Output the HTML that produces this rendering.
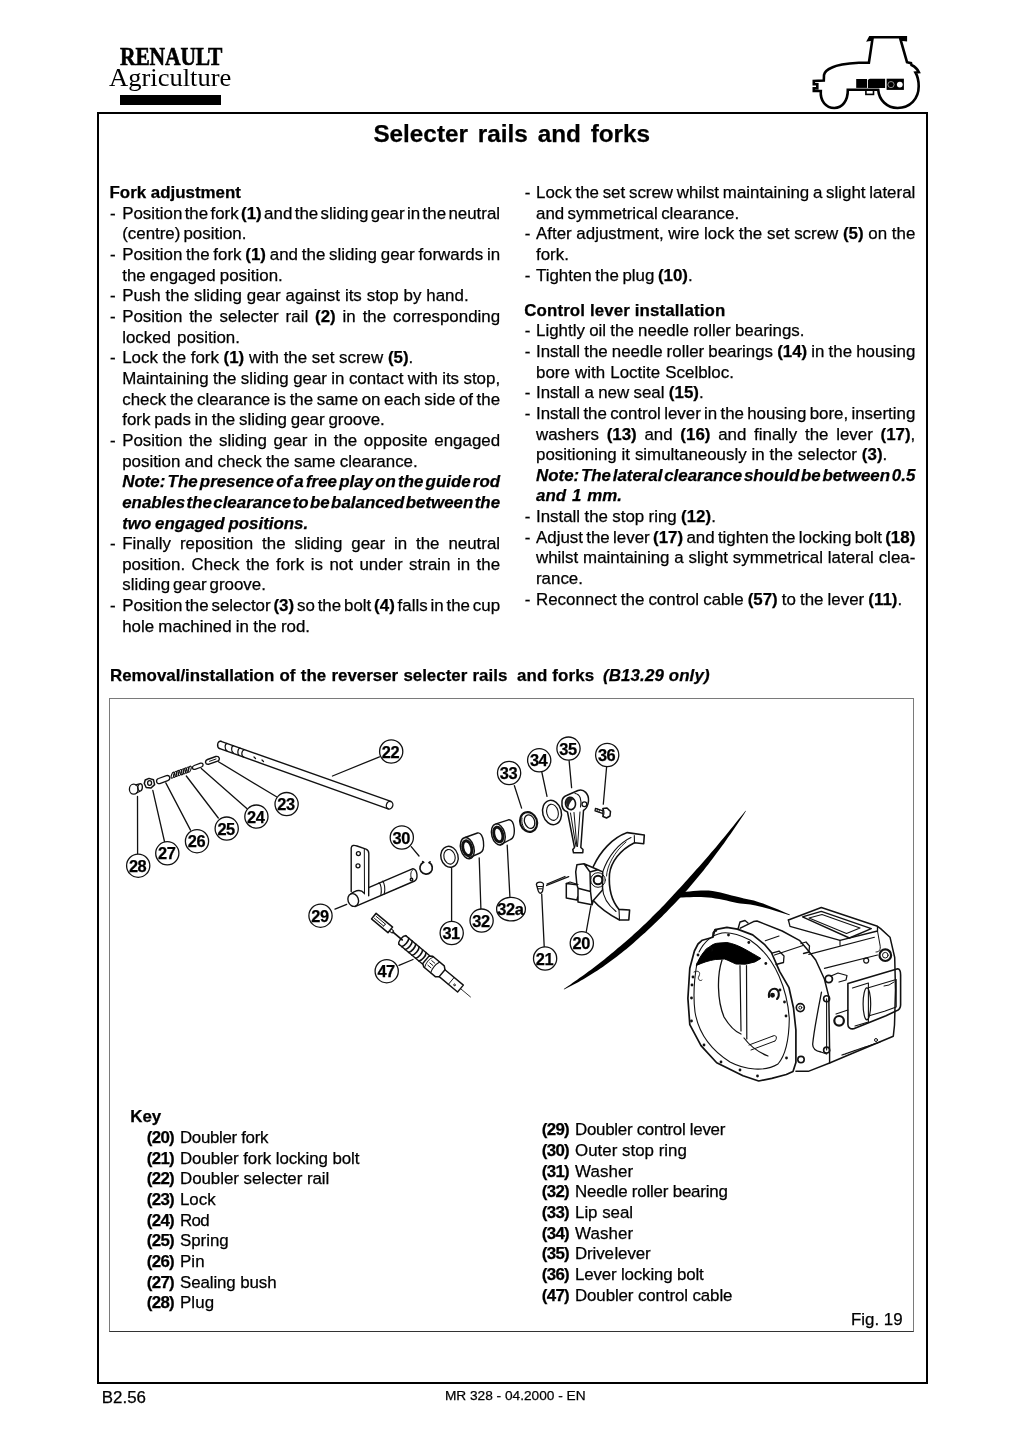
<!DOCTYPE html>
<html><head><meta charset="utf-8">
<style>
html,body{margin:0;padding:0;background:#fff;}
body{width:1024px;height:1449px;position:relative;overflow:hidden;will-change:transform;font-family:"Liberation Sans",sans-serif;color:#000;}
.t{position:absolute;white-space:nowrap;font-size:16.9px;line-height:20px;-webkit-text-stroke:0.25px #000;}
.t b{font-weight:bold;}
.t i{font-weight:bold;font-style:italic;}
.hb{font-weight:bold;}
.frame{position:absolute;left:97px;top:112px;width:827px;height:1267.7px;border:2px solid #000;}
.fig{position:absolute;left:109.2px;top:698.1px;width:802.8px;height:631.8px;border:1.7px solid #7a7a7a;border-bottom-color:#333;}
svg{position:absolute;left:0;top:0;}
</style></head><body>
<div class="frame"></div>
<div class="fig"></div>
<div style="position:absolute;left:120.3px;top:43px;font-family:'Liberation Serif',serif;font-weight:bold;font-size:25.5px;line-height:28px;transform:scaleX(0.845);transform-origin:0 0;letter-spacing:-0.2px;-webkit-text-stroke:0.6px #000">RENAULT</div>
<div style="position:absolute;left:108.5px;top:63px;font-family:'Liberation Serif',serif;font-size:25.4px;line-height:28px;transform:scaleX(1.045);transform-origin:0 0;">Agriculture</div>
<div style="position:absolute;left:120px;top:95px;width:100.5px;height:9.5px;background:#000"></div>
<svg width="1024" height="130" viewBox="0 0 1024 130" style="position:absolute;left:0;top:0">
<g fill="none" stroke="#000" stroke-width="2.6" stroke-linejoin="miter">
<path d="M868.5 40 L872.4 39.4 L868.9 62.8 L858.9 62.8 C848 63.5 838 64.5 832 67.5 C827 69.5 824.5 72 824 75 L823.8 80.5 L813.8 81 L813.8 84.3 L817.3 84.3 L817.3 88.2 L813.8 88.2 L813.8 91 L820.8 91 C820 101 826 108 834.3 108 C842 108 848 101 847.8 89.8 L878.2 89.8 C879 100 887 108 897.6 108 C910 108 918.7 99 918.7 86.3 C918.7 80 917.5 76 915.5 72.5 L918.9 72.2 C917.5 69 914.5 66.5 911.5 65 L911 63.2 L907 62.2 L900.5 39.4 L905.8 40 L905.8 37.2 L870 37.2 Z"/>
<rect x="865.9" y="89.8" width="7.6" height="4.6" stroke-width="1.6"/>
</g>
<rect x="856.2" y="79" width="10.8" height="8.9" fill="#000"/>
<path d="M867.9 88.1 L867.9 80.5 Q868.2 78.7 870 78.7 L885.1 78.7 L885.1 88.1 Z" fill="#000"/>
<rect x="886.6" y="78.7" width="17.3" height="11.2" fill="#000"/>
<circle cx="891" cy="84.6" r="3.1" fill="none" stroke="#aaa" stroke-width="0.8"/>
<circle cx="899.8" cy="84.6" r="2.9" fill="#fff"/>
</svg>

<div class="t hb" style="left:373.4px;top:119.98px;font-size:24.3px;line-height:28px;word-spacing:3.1px">Selecter rails and forks</div>
<div class="t hb" style="left:109.5px;top:182.94px;letter-spacing:0px">Fork adjustment</div>
<div class="t" style="left:110.1px;top:203.60px">-</div>
<div class="t" style="left:122.2px;top:203.60px;word-spacing:-2.305px">Position the fork <b>(1)</b> and the sliding gear in the neutral</div>
<div class="t" style="left:122.2px;top:224.26px;word-spacing:-1.600px">(centre) position.</div>
<div class="t" style="left:110.1px;top:244.92px">-</div>
<div class="t" style="left:122.2px;top:244.92px;word-spacing:-0.888px">Position the fork <b>(1)</b> and the sliding gear forwards in</div>
<div class="t" style="left:122.2px;top:265.58px;word-spacing:-0.500px">the engaged position.</div>
<div class="t" style="left:110.1px;top:286.24px">-</div>
<div class="t" style="left:122.2px;top:286.24px;word-spacing:0.225px">Push the sliding gear against its stop by hand.</div>
<div class="t" style="left:110.1px;top:306.90px">-</div>
<div class="t" style="left:122.2px;top:306.90px;word-spacing:2.211px">Position the selecter rail <b>(2)</b> in the corresponding</div>
<div class="t" style="left:122.2px;top:327.56px;word-spacing:1.300px">locked position.</div>
<div class="t" style="left:110.1px;top:348.22px">-</div>
<div class="t" style="left:122.2px;top:348.22px;word-spacing:0.000px">Lock the fork <b>(1)</b> with the set screw <b>(5)</b>.</div>
<div class="t" style="left:122.2px;top:368.88px;word-spacing:-0.294px">Maintaining the sliding gear in contact with its stop,</div>
<div class="t" style="left:122.2px;top:389.54px;word-spacing:-1.082px">check the clearance is the same on each side of the</div>
<div class="t" style="left:122.2px;top:410.20px;word-spacing:-0.833px">fork pads in the sliding gear groove.</div>
<div class="t" style="left:110.1px;top:430.86px">-</div>
<div class="t" style="left:122.2px;top:430.86px;word-spacing:1.934px">Position the sliding gear in the opposite engaged</div>
<div class="t" style="left:122.2px;top:451.52px;word-spacing:-0.240px">position and check the same clearance.</div>
<div class="t" style="left:122.2px;top:472.18px;word-spacing:-2.474px"><i>Note: The presence of a free play on the guide rod</i></div>
<div class="t" style="left:122.2px;top:492.84px;word-spacing:-3.275px"><i>enables the clearance to be balanced between the</i></div>
<div class="t" style="left:122.2px;top:513.50px;word-spacing:-0.850px"><i>two engaged positions.</i></div>
<div class="t" style="left:110.1px;top:534.16px">-</div>
<div class="t" style="left:122.2px;top:534.16px;word-spacing:4.222px">Finally reposition the sliding gear in the neutral</div>
<div class="t" style="left:122.2px;top:554.82px;word-spacing:1.826px">position. Check the fork is not under strain in the</div>
<div class="t" style="left:122.2px;top:575.48px;word-spacing:-1.850px">sliding gear groove.</div>
<div class="t" style="left:110.1px;top:596.14px">-</div>
<div class="t" style="left:122.2px;top:596.14px;word-spacing:-1.837px">Position the selector <b>(3)</b> so the bolt <b>(4)</b> falls in the cup</div>
<div class="t" style="left:122.2px;top:616.80px;word-spacing:-0.450px">hole machined in the rod.</div>
<div class="t" style="left:524.8px;top:182.94px">-</div>
<div class="t" style="left:536.0px;top:182.94px;word-spacing:-0.937px">Lock the set screw whilst maintaining a slight lateral</div>
<div class="t" style="left:536.0px;top:203.60px;word-spacing:-1.250px">and symmetrical clearance.</div>
<div class="t" style="left:524.8px;top:224.26px">-</div>
<div class="t" style="left:536.0px;top:224.26px;word-spacing:0.002px">After adjustment, wire lock the set screw <b>(5)</b> on the</div>
<div class="t" style="left:536.0px;top:244.92px;word-spacing:0.000px">fork.</div>
<div class="t" style="left:524.8px;top:265.58px">-</div>
<div class="t" style="left:536.0px;top:265.58px;word-spacing:-1.100px">Tighten the plug <b>(10)</b>.</div>
<div class="t hb" style="left:524.2px;top:300.54px;letter-spacing:0.12px">Control lever installation</div>
<div class="t" style="left:524.8px;top:321.20px">-</div>
<div class="t" style="left:536.0px;top:321.20px;word-spacing:-0.390px">Lightly oil the needle roller bearings.</div>
<div class="t" style="left:524.8px;top:341.86px">-</div>
<div class="t" style="left:536.0px;top:341.86px;word-spacing:-0.593px">Install the needle roller bearings <b>(14)</b> in the housing</div>
<div class="t" style="left:536.0px;top:362.52px;word-spacing:0.533px">bore with Loctite Scelbloc.</div>
<div class="t" style="left:524.8px;top:383.18px">-</div>
<div class="t" style="left:536.0px;top:383.18px;word-spacing:-0.350px">Install a new seal <b>(15)</b>.</div>
<div class="t" style="left:524.8px;top:403.84px">-</div>
<div class="t" style="left:536.0px;top:403.84px;word-spacing:-1.412px">Install the control lever in the housing bore, inserting</div>
<div class="t" style="left:536.0px;top:424.50px;word-spacing:3.045px">washers <b>(13)</b> and <b>(16)</b> and finally the lever <b>(17)</b>,</div>
<div class="t" style="left:536.0px;top:445.16px;word-spacing:0.167px">positioning it simultaneously in the selector <b>(3)</b>.</div>
<div class="t" style="left:536.0px;top:465.82px;word-spacing:-2.939px"><i>Note: The lateral clearance should be between 0.5</i></div>
<div class="t" style="left:536.0px;top:486.48px;word-spacing:1.250px"><i>and 1 mm.</i></div>
<div class="t" style="left:524.8px;top:507.14px">-</div>
<div class="t" style="left:536.0px;top:507.14px;word-spacing:-0.350px">Install the stop ring <b>(12)</b>.</div>
<div class="t" style="left:524.8px;top:527.80px">-</div>
<div class="t" style="left:536.0px;top:527.80px;word-spacing:-1.362px">Adjust the lever <b>(17)</b> and tighten the locking bolt <b>(18)</b></div>
<div class="t" style="left:536.0px;top:548.46px;word-spacing:0.165px">whilst maintaining a slight symmetrical lateral clea-</div>
<div class="t" style="left:536.0px;top:569.12px;word-spacing:0.000px">rance.</div>
<div class="t" style="left:524.8px;top:589.78px">-</div>
<div class="t" style="left:536.0px;top:589.78px;word-spacing:-0.600px">Reconnect the control cable <b>(57)</b> to the lever <b>(11)</b>.</div>
<div class="t hb" style="left:110.0px;top:665.54px;word-spacing:0.6px">Removal/installation of the reverser selecter rails</div>
<div class="t hb" style="left:517px;top:665.54px;letter-spacing:0.15px">and forks</div>
<div class="t hb" style="left:603px;top:665.54px;font-style:italic;letter-spacing:0.12px">(B13.29 only)</div>
<svg width="1024" height="1449" viewBox="0 0 1024 1449" style="position:absolute;left:0;top:0">
<g fill="none" stroke="#111" stroke-width="1.3" stroke-linecap="round" stroke-linejoin="round">
<!-- leaders -->
<path d="M332.5 776 L379.5 756.8"/>
<path d="M218.4 761.7 L276.5 796.8"/>
<path d="M201.3 768.5 L247.1 808.8"/>
<path d="M186.3 776 L218.3 818"/>
<path d="M165.8 782.9 L190.5 830.1"/>
<path d="M152.8 790.4 L164.5 841.5"/>
<path d="M137.5 796.5 L137.6 853.6"/>
<path d="M411.2 846.7 L419 856"/>
<path d="M335 909.2 L346.7 904.3"/>
<path d="M451.6 868.5 L451.6 921.2"/>
<path d="M479.2 857.8 L480.9 908.9"/>
<path d="M507.2 845.2 L509.9 896.8"/>
<path d="M399 965.4 L413 959.5"/>
<path d="M514.4 785.7 L521.6 808.1"/>
<path d="M541.8 772 L547 796.4"/>
<path d="M569.1 760.5 L571.6 787.6"/>
<path d="M606.6 767 L603.3 804.2"/>
<path d="M590.9 905.9 L586.3 931.5"/>
<path d="M541.7 894.1 L544.2 946.6"/>
<!-- rod 22 -->
<path d="M221 741.3 L390.9 801.4 M219.8 748.6 L388.1 808.9" stroke-width="1.4"/>
<path d="M221 741.3 C217 740.5 216.5 747.5 219.8 748.6" stroke-width="1.4"/>
<ellipse cx="389.6" cy="805.2" rx="3.2" ry="3.9" transform="rotate(19.5 389.6 805.2)"/>
<path d="M227 743.3 C224.5 744 224.5 749.5 227 750.7 M233.5 745.6 C231 746.3 231 752 233.5 753 M240 748 C237.5 748.7 237 754.5 239.5 755.5 M244.5 749.5 C241 751 241 756 244 757.2" stroke-width="1.2"/>
<path d="M254 757 l1.5 1.5 M262 760 l1.5 1.5" stroke-width="1.2"/>
<!-- small parts -->
<ellipse cx="133.7" cy="789.2" rx="4.3" ry="5"/>
<path d="M135.5 784.8 L140.5 783.6 C143 784 143 790 140.5 791 L136.5 793" />
<path d="M139 784.5 C137 786 137.5 790 139.5 791"/>
<path d="M145.2 780 L149 778.4 L153.5 779.8 L154.6 784.6 L151 788 L146.2 787.5 L144.3 783.5 Z" stroke-width="1.5"/>
<ellipse cx="149.6" cy="783" rx="2" ry="2.4"/>
<path d="M158.5 778.5 L166.5 775.6 C170 774.8 171 779.5 167.8 780.6 L159.8 783.6 C156 784.3 155.5 779.5 158.5 778.5 Z"/>
<g stroke-width="1.1"><ellipse cx="172.8" cy="775.20" rx="1.3" ry="3.2" transform="rotate(20 172.8 775.20)"/><ellipse cx="175.2" cy="774.34" rx="1.3" ry="3.2" transform="rotate(20 175.2 774.34)"/><ellipse cx="177.6" cy="773.48" rx="1.3" ry="3.2" transform="rotate(20 177.6 773.48)"/><ellipse cx="180.0" cy="772.62" rx="1.3" ry="3.2" transform="rotate(20 180.0 772.62)"/><ellipse cx="182.4" cy="771.76" rx="1.3" ry="3.2" transform="rotate(20 182.4 771.76)"/><ellipse cx="184.8" cy="770.90" rx="1.3" ry="3.2" transform="rotate(20 184.8 770.90)"/><ellipse cx="187.2" cy="770.04" rx="1.3" ry="3.2" transform="rotate(20 187.2 770.04)"/><ellipse cx="189.6" cy="769.18" rx="1.3" ry="3.2" transform="rotate(20 189.6 769.18)"/></g>
<path d="M194.2 765.5 L200.5 763.2 C203.5 762.5 204 766 201.5 767 L195 769.3 C192 770 191.5 766.5 194.2 765.5 Z"/>
<path d="M207.5 759.5 L215.8 756.5 C219.5 755.6 220.5 760 217.5 761.2 L209 764.2 C205 765 204.5 760.6 207.5 759.5 Z" stroke-width="1.4"/>
<path d="M209.5 761.3 L216 759" stroke-width="1"/>
<!-- lever 29 -->
<path d="M351.2 891.5 L351.2 848 C351.5 845 354 845 357 846 L366 849.2 C368.5 850.2 368.8 851.5 368.8 853.5 L368.7 895.8" stroke-width="1.4"/>
<path d="M364.3 848.5 L364.5 894" stroke-width="1"/>
<circle cx="358.4" cy="853.6" r="2"/>
<circle cx="358" cy="865.8" r="2"/>
<ellipse cx="353.2" cy="900" rx="5.2" ry="6.5" transform="rotate(-20 353.2 900)" stroke-width="1.4"/>
<path d="M351 893.7 L354 891.8 C358 890 362 890.5 364 893 M355 906.6 L414.6 881 C418.2 879.3 417.8 869.6 413 868.7 L369.2 887.4" stroke-width="1.4"/>
<path d="M379 882.8 C381 884 382 890 380.8 895.5 M382.5 881.2 C384.5 882.5 385.5 889 384.3 894" stroke-width="1.1"/>
<path d="M412.5 870 C410.5 871 410 877 412 879.5" stroke-width="1"/>
<circle cx="411.5" cy="879.5" r="1.3"/>
<path d="M423.6 862.3 A6.2 6.2 0 1 0 429.2 862.6" stroke-width="1.7"/><path d="M423.6 862.3 l-1 -0.8 M429.2 862.6 l0.9 -0.9" stroke-width="1.5"/>
<!-- washer 31 -->
<ellipse cx="449.5" cy="856.8" rx="8.6" ry="10.6" transform="rotate(-15 449.5 856.8)" stroke-width="1.4"/>
<ellipse cx="449.5" cy="856.8" rx="5.6" ry="7.4" transform="rotate(-15 449.5 856.8)" stroke-width="1.1"/>
<!-- bearing 32 -->
<path d="M465 837.5 L477.5 833 C484 831.5 486 850.5 480 853 L469 857.8" stroke-width="1.4"/>
<ellipse cx="467.3" cy="848.2" rx="6.6" ry="10.8" transform="rotate(-15 467.3 848.2)" stroke-width="1.5"/>
<ellipse cx="467.3" cy="848.2" rx="4.3" ry="7.5" transform="rotate(-15 467.3 848.2)" stroke-width="3" stroke-dasharray="1.1 0.8"/>
<!-- bearing 32a -->
<path d="M496 823.8 L508.5 819.8 C515 818.5 516.5 837 510.5 839.5 L500 844.8" stroke-width="1.4"/>
<ellipse cx="498.3" cy="834.5" rx="6.6" ry="10.8" transform="rotate(-15 498.3 834.5)" stroke-width="1.4"/>
<ellipse cx="498.3" cy="834.5" rx="4.3" ry="7.5" transform="rotate(-15 498.3 834.5)" stroke-width="3" stroke-dasharray="1.1 0.8"/>
<!-- seal 33 -->
<ellipse cx="528.6" cy="822" rx="8.4" ry="10" transform="rotate(-20 528.6 822)" stroke-width="2.1"/>
<ellipse cx="529.6" cy="821.6" rx="5" ry="7" transform="rotate(-20 529.6 821.6)" stroke-width="1.3"/>
<path d="M522 818 C521 822 523 829 527 830.5" stroke-width="1"/>
<!-- washer 34 -->
<ellipse cx="552" cy="812.5" rx="9.3" ry="12.3" transform="rotate(-15 552 812.5)" stroke-width="1.5"/>
<ellipse cx="552.5" cy="812.3" rx="5.7" ry="8.2" transform="rotate(-15 552.5 812.3)" stroke-width="1.1"/>
<!-- lever 35 -->
<path d="M566.5 795.5 L578 790.5 C584 788.5 589 794 588.5 801 C588 806 586 809 583.5 810.5 L580.8 847.5 L583 849.5 L582.8 852.8 L573.5 852.8 L572.8 849.5 L574.5 847.5 L567.5 812 C563 811 561.5 806 562 801 C562.5 798 564 796.5 566.5 795.5 Z" stroke-width="1.5"/>
<ellipse cx="570.5" cy="803.5" rx="5" ry="6.2" transform="rotate(-10 570.5 803.5)" stroke-width="1.6"/><path d="M566 802 C566 797 570 796.5 574 798.5 C572 800 569 803 568.5 808 C566.8 806.5 566 804.5 566 802 Z" fill="#222" stroke="none"/>
<path d="M575 793.5 C580 794 582 800 580.5 807" stroke-width="1.1"/>
<circle cx="584.4" cy="804.2" r="2.4" stroke-width="1.3"/>
<path d="M570.5 813 L576 846.5 M580 812 L577.5 846.5 M574 812.5 L576.8 846" stroke-width="1"/>
<!-- bolt 36 -->
<path d="M595.5 808.3 L603 810.8 M595 810.8 L602.5 813.3 M595.5 808.3 L595 810.8" stroke-width="1.3"/>
<path d="M597.5 808.8 L597 811.5 M599.5 809.5 L599 812.2" stroke-width="0.9"/>
<path d="M603 808.5 L607 808 L610.5 811.5 L610 816 L606.5 818 L603 816.5 Z" stroke-width="1.5"/>
<path d="M603 808.5 C604.5 810.5 604.5 814.5 603 816.5" stroke-width="1"/>
<!-- bolt 21 -->
<path d="M536.4 884.5 C536.5 881.6 543.5 881.3 543.5 884.5 L542.6 891 C541.5 894 539.5 894 538.3 891 Z" stroke-width="1.3"/>
<path d="M537.5 886.5 L542.5 886.5 M538 888.8 L542 888.8" stroke-width="1"/>
<path d="M546.6 885.5 L568.7 876.6 M547 884 L565 876.5" stroke-width="1.3"/>
<!-- fork 20 -->
<path d="M593.3 866.5 C600 852 612 838 627.3 832.6 L644.3 835 L643.7 843.8 L634.5 842.8 C620 850 611 862 609.5 874 C608.5 888 611 900 619 909.4 L629.6 910 L628.8 920 L619.5 920 C608 914 599 907 593.3 900.5" stroke-width="1.6"/>
<path d="M634.3 835.5 L634.5 842.8 M619 909.4 L619.5 920" stroke-width="1.1"/>
<path d="M602.7 871.9 C608 856 619 843 631 837.5 M602.5 888 C603 898 608 905 616 911.5" stroke-width="1.1"/>
<path d="M606.5 876 C607 866 614 852 626 842" stroke-width="0.9"/>
<path d="M576.9 864.8 L584 863.8 L597.9 869.7 L602.7 871.9 L602.5 890 L593.3 900.5 L592.1 904.7 L578 902 L578 888.3 M576.9 864.8 L575.7 871.9 L576.9 884.8 L566.3 883.6 L566.3 898 L576.9 900 L578 896 M576.9 884.8 L578 888.3 L590.5 891.5 L592.1 904.7 M584 863.8 L590 872 L597.9 869.7 M590 872 L590.5 891.5" stroke-width="1.5"/>
<path d="M566.3 883.6 L570 882 L578 884.5" stroke-width="1.1"/>
<circle cx="598" cy="880" r="4.3" stroke-width="2"/>
<circle cx="598" cy="880" r="7.3" stroke-width="1"/>
<!-- cable 47 -->
<g transform="translate(373.8 916.1) rotate(39.9)">
<path d="M0 -3.6 L21.5 -3.6 L21.5 3.6 L0 3.6 Z" stroke-width="1.5"/>
<path d="M2 -1.3 L14 -1.3 M2 1.3 L14 1.3 M14 -1.3 L14 1.3" stroke-width="0.9"/>
<path d="M21.5 -1.5 L25 -1.2 L25 1.2 L21.5 1.5" stroke-width="1"/>
<path d="M25 0 L37 0" stroke-width="1.8"/>
<path d="M37 -5.5 L68 -5.5 M37 5.5 L68 5.5" stroke-width="1.4"/>
<path d="M38 -5.5 C34.5 -5.5 34.5 5.5 38 5.5" stroke-width="1.4"/>
<g stroke-width="1.6"><path d="M41 -5.5 C43 -3 43 3 41 5.5"/><path d="M45.5 -5.5 C47.5 -3 47.5 3 45.5 5.5"/><path d="M50 -5.5 C52 -3 52 3 50 5.5"/><path d="M54.5 -5.5 C56.5 -3 56.5 3 54.5 5.5"/><path d="M59 -5.5 C61 -3 61 3 59 5.5"/><path d="M63.5 -5.5 C65.5 -3 65.5 3 63.5 5.5"/></g>
<path d="M68 -5 L71 -7 L86 -7 L89 -4.5 L89 4.5 L86 7 L71 7 L68 5 Z" stroke-width="1.5"/>
<path d="M72 -7 C70 -3 70 3 72 7 M80 -7 C78.5 -3 78.5 3 80 7" stroke-width="1"/>
<path d="M73 -3 L77 -3 M73 0 L77 0 M73 3 L77 3" stroke-width="0.9"/>
<path d="M89 -4.5 L113 -4.5 L113 4.5 L89 4.5" stroke-width="1.4"/>
<path d="M101 -4.5 L101 4.5" stroke-width="0.9"/>
<circle cx="106" cy="1" r="0.9" stroke-width="0.8"/>
<path d="M113 0 L126 0" stroke-width="0.8"/>
</g>
</g>
<!-- callouts -->
<g fill="#fff" stroke="#111" stroke-width="1.3">
<circle cx="391.2" cy="751.5" r="11.6"/>
<circle cx="286.6" cy="804.1" r="11.6"/>
<circle cx="256.4" cy="816.6" r="11.6"/>
<circle cx="226.7" cy="828.6" r="11.6"/>
<circle cx="197" cy="841.2" r="11.6"/>
<circle cx="167.3" cy="853.3" r="11.6"/>
<circle cx="138.2" cy="865.7" r="11.6"/>
<circle cx="401.8" cy="837.5" r="11.6"/>
<circle cx="320.5" cy="915.7" r="11.6"/>
<circle cx="451.7" cy="933" r="11.6"/>
<circle cx="481.6" cy="920.6" r="11.6"/>
<ellipse cx="511" cy="909.1" rx="14.4" ry="11.8"/>
<circle cx="386.7" cy="971.2" r="11.6"/>
<circle cx="509.1" cy="773" r="11.6"/>
<circle cx="539.2" cy="760.3" r="11.6"/>
<circle cx="568.5" cy="748.6" r="11.6"/>
<circle cx="607.2" cy="755" r="11.6"/>
<circle cx="581.8" cy="943.3" r="11.6"/>
<circle cx="545.1" cy="958.5" r="11.6"/>
</g>
<g font-family="Liberation Sans, sans-serif" font-weight="bold" font-size="16.4" text-anchor="middle" fill="#000" stroke="#000" stroke-width="0.25" letter-spacing="-0.4">
<text x="390.4" y="757.8">22</text>
<text x="286.0" y="810.1">23</text>
<text x="255.8" y="822.6">24</text>
<text x="226.1" y="834.6">25</text>
<text x="196.4" y="847.2">26</text>
<text x="166.7" y="859.3">27</text>
<text x="137.6" y="871.7">28</text>
<text x="401.2" y="843.5">30</text>
<text x="319.9" y="921.7">29</text>
<text x="451.1" y="939">31</text>
<text x="481.0" y="926.6">32</text>
<text x="510.4" y="915.1">32a</text>
<text x="386.1" y="977.2">47</text>
<text x="508.5" y="779">33</text>
<text x="538.6" y="766.3">34</text>
<text x="567.9" y="754.6">35</text>
<text x="606.6" y="761">36</text>
<text x="581.2" y="949.3">20</text>
<text x="544.5" y="964.5">21</text>
</g>
<!-- big black curve -->
<path d="M564.0 989.4 L566.5 988.2 L568.9 987.0 L571.3 985.8 L573.7 984.5 L576.2 983.2 L578.6 981.9 L581.0 980.6 L583.4 979.2 L585.8 977.7 L588.2 976.3 L590.6 974.8 L593.0 973.3 L595.4 971.7 L597.9 970.2 L600.3 968.6 L602.7 966.9 L605.0 965.2 L607.4 963.5 L609.8 961.8 L612.2 960.1 L614.6 958.3 L617.0 956.5 L619.4 954.6 L621.7 952.8 L624.1 950.8 L626.5 948.9 L628.8 946.9 L631.2 944.9 L633.5 942.9 L635.9 940.8 L638.2 938.7 L640.6 936.6 L642.9 934.5 L645.3 932.4 L647.6 930.2 L650.0 928.0 L652.4 925.8 L654.7 923.6 L657.1 921.3 L659.4 919.0 L661.8 916.7 L664.1 914.3 L666.5 911.9 L668.8 909.5 L671.2 907.1 L673.5 904.7 L675.9 902.2 L678.2 899.7 L680.6 897.2 L682.9 894.6 L685.3 892.0 L687.6 889.4 L689.9 886.7 L692.2 884.0 L694.5 881.3 L696.8 878.6 L699.1 875.8 L701.4 873.0 L703.7 870.2 L705.9 867.3 L708.2 864.4 L710.4 861.5 L712.7 858.5 L714.9 855.5 L717.1 852.5 L719.4 849.5 L721.6 846.4 L723.9 843.4 L726.1 840.3 L728.3 837.1 L730.6 834.0 L732.8 830.8 L735.0 827.6 L737.2 824.3 L739.4 821.1 L741.6 817.8 L743.8 814.4 L745.9 811.1 L745.5 810.7 L743.0 813.9 L740.5 817.0 L738.0 820.1 L735.6 823.1 L733.1 826.2 L730.6 829.2 L728.2 832.2 L725.8 835.2 L723.3 838.2 L720.9 841.1 L718.5 844.0 L716.1 846.9 L713.7 849.7 L711.2 852.6 L708.8 855.4 L706.4 858.2 L704.0 860.9 L701.6 863.7 L699.2 866.4 L696.8 869.1 L694.4 871.8 L692.0 874.5 L689.7 877.1 L687.3 879.7 L685.0 882.3 L682.6 884.9 L680.3 887.5 L677.9 890.0 L675.6 892.6 L673.3 895.1 L671.0 897.6 L668.7 900.1 L666.4 902.5 L664.1 904.9 L661.8 907.3 L659.5 909.7 L657.1 912.0 L654.8 914.3 L652.5 916.6 L650.2 918.9 L647.9 921.2 L645.6 923.4 L643.3 925.6 L641.0 927.8 L638.7 929.9 L636.4 932.0 L634.1 934.1 L631.8 936.2 L629.5 938.3 L627.2 940.3 L624.9 942.3 L622.5 944.2 L620.2 946.2 L617.9 948.1 L615.7 950.0 L613.4 951.9 L611.1 953.8 L608.8 955.7 L606.6 957.6 L604.3 959.4 L602.0 961.2 L599.7 962.9 L597.5 964.7 L595.2 966.4 L593.0 968.2 L590.7 969.9 L588.4 971.6 L586.2 973.2 L583.9 974.9 L581.7 976.5 L579.4 978.1 L577.2 979.7 L574.9 981.3 L572.7 982.8 L570.5 984.4 L568.2 985.9 L566.0 987.4 L563.8 988.9 Z" fill="#000"/>
<path d="M678.6 897.5 L682.4 897.4 L686.2 897.3 L689.9 897.2 L693.7 897.1 L697.4 897.0 L701.0 897.0 L704.6 897.2 L708.1 897.5 L711.7 897.8 L715.3 898.4 L719.1 899.0 L722.8 899.8 L726.6 900.6 L730.2 901.5 L733.7 902.2 L737.1 902.9 L740.2 903.4 L743.0 903.7 L745.5 904.0 L748.0 904.3 L750.4 904.6 L752.9 905.0 L755.6 905.5 L758.7 906.2 L762.0 907.0 L765.7 908.0 L769.5 909.1 L773.5 910.3 L777.5 911.5 L781.6 912.8 L785.6 914.0 L789.6 915.2 L789.8 914.4 L786.0 912.9 L782.1 911.3 L778.2 909.6 L774.3 908.0 L770.4 906.5 L766.7 905.0 L763.1 903.6 L759.7 902.4 L756.7 901.4 L753.9 900.6 L751.3 900.0 L748.8 899.4 L746.4 898.9 L743.9 898.4 L741.2 897.8 L738.3 897.1 L735.1 896.3 L731.7 895.5 L728.1 894.5 L724.3 893.5 L720.5 892.6 L716.6 891.7 L712.6 891.0 L708.7 890.5 L704.8 890.4 L700.9 890.5 L697.1 890.7 L693.3 891.1 L689.5 891.4 L685.8 891.8 L682.1 892.2 L678.4 892.5 Z" fill="#000"/>
<g fill="none" stroke="#111" stroke-width="1.7" stroke-linejoin="round" stroke-linecap="round">
<!-- bell housing outer flange -->
<path d="M715.2 929.6 L726.9 927.3 L737.4 929.1 L752.7 934.9 L764.4 944.3 L771.4 952.5 L779.6 971.3 L789 987.7 L793.5 1008 L795.9 1030 L795.9 1062.5 L793 1071.5 L786.3 1074.5 L771.8 1078.4 L758.7 1081 L743 1075.8 L716.7 1062.7 L701 1045.6 L689.8 1024.6 L687.9 998.4 L689.8 968.2 L694.4 951 L698 944 L702.3 940.2 L712.8 937.3 Z" stroke-width="1.7"/>
<path d="M738 929 L740 922 L745 920.5 L748 923" stroke-width="1.4"/><path d="M712.8 937.3 L713 933 L715.2 929.6" stroke-width="1.4"/>
<!-- inner flange line -->
<path d="M697 963 C694 980 693.5 1000 695 1012 C698 1030 708 1048 730 1062 C745 1070 765 1072 778 1064 C786 1055 789 1040 789.3 1018.6 C788 1000 783 985 779 976 C772 960 762 948 750 940 C740 935 730 932 722 933 C712 935 704 942 699 952" stroke-width="1.1"/>
<!-- black shadow at top of bore -->
<path d="M696.4 965.4 C699 958 704 950 710 946.5 C713 944 716 943.2 718.7 943.1 L726.9 942.5 C733 943.5 739 946 744.5 949 C750 952 755 955 760.9 958.4 L755 961.9 L745.6 964.2 L736 964 C731 962 728 960 724.5 959 L715.2 959.5 C709 960.5 703 962.5 696.4 965.4 Z" fill="#000" stroke="#000" stroke-width="1"/>
<!-- inner bore curves -->
<path d="M722 960 C717 975 717 1000 724 1017 C730 1027 736 1032 741 1034" stroke-width="1.3"/>
<path d="M740 965.5 L741 1031 M746.5 965.5 L746.8 1039" stroke-width="1.2"/>
<path d="M744 1038 C750 1046 758 1052 768 1056" stroke-width="1.2"/>
<path d="M749 1045 L773 1036 M751 1050 L775 1041" stroke-width="1"/>
<path d="M773 1036 C776 1034 778 1038 775 1041" stroke-width="1"/>
<!-- middle housing -->
<path d="M740.3 928.2 L753.5 921.6 L757 921 L782.2 931 L799.4 940.3 C808 950 815.7 960 815.7 960 L824.4 979 L828.8 996.6 L829.6 1050.8" stroke-width="1.5"/>
<path d="M795.9 1071.3 L808.3 1071.3 L829.6 1063 L829.6 1050.8" stroke-width="1.4"/>
<path d="M765.3 940.7 L779 936 M774.5 955.1 L803 945.5" stroke-width="1.1"/>
<path d="M772 953 L779 951 L784 956 L783.5 962.5 L776 964.5" stroke-width="1.3"/>
<path d="M801 943.5 L806 942 L809.5 946 L809 952 L803.5 953.5" stroke-width="1.3"/>
<!-- rib/bracket -->
<path d="M821.5 992.2 C818 1010 814 1030 812.7 1044 C812.5 1048 816 1051 821 1052 L826.6 1054" stroke-width="1.3"/>
<path d="M826.6 998.8 L826.6 1050" stroke-width="1.1"/>
<!-- rear body -->
<path d="M788.4 920 L821.3 907.5 L877.5 926.3 L880.6 928.6 L890 937.2 L894.7 957.5 L895.5 990 L894.5 1025 L893.3 1036.2 L847.9 1055.2 L829.6 1063" stroke-width="1.5"/>
<path d="M788.4 920 L790 926.3 L840 940.3 L877.5 931 L877.5 926.3" stroke-width="1.3"/>
<path d="M802.5 916.9 L821.3 911.4 L871.3 928.6 L849.4 938 Z" stroke-width="1.4"/>
<path d="M809 918 L822 914.5 L860 928 L846.5 933.5 Z" stroke-width="1.1"/>
<path d="M840 940.3 L840 946 M808.75 954.4 L874.4 937.2 M824.4 968.4 L877.5 955" stroke-width="1.1"/>
<path d="M877.5 931 L880 945 C881 950 879 952 876 952" stroke-width="1"/>
<!-- side cover plate -->
<path d="M847.9 983.4 L897.7 968.8 C900 969 900.6 972 900.6 975 L900.6 1005 C900.6 1008 899 1010 896 1011 L886 1015.7 L853.7 1028.8 C850 1029.5 847.9 1027 847.9 1024.5 Z" stroke-width="1.6"/>
<path d="M852.5 988 L868.4 983 L868.4 1022 L855 1026" stroke-width="1.1"/>
<path d="M868.4 987.8 L896.2 979.5 L896.2 1006.9 L884.5 1011.3 L868.4 1016" stroke-width="1.1"/>
<ellipse cx="866.9" cy="1003.9" rx="3.8" ry="16" stroke-width="1.2"/>
<path d="M884 986 L889 985 L894 982" stroke-width="1"/>
<!-- plugs & bosses -->
<circle cx="885.3" cy="955.2" r="5.8" stroke-width="2.2"/>
<circle cx="885.3" cy="955.2" r="2.8" stroke-width="1"/>
<circle cx="866.2" cy="960.6" r="2.5" stroke-width="1.2"/>
<circle cx="800.3" cy="1007.6" r="4" stroke-width="1.7"/>
<circle cx="800.3" cy="1007.6" r="1.5" stroke-width="1"/>
<circle cx="826.6" cy="998.8" r="3" stroke-width="1.6"/>
<circle cx="828.8" cy="979" r="3.6" stroke-width="1.8"/>
<circle cx="839.1" cy="1020.8" r="4.8" stroke-width="2.2"/>
<path d="M836 1014 L847.9 1010" stroke-width="1.1"/>
<path d="M831 976 L838 973 L847 975.5 L846 980 L839 982" stroke-width="1.2"/>
<circle cx="826.6" cy="1050.1" r="3" stroke-width="1.6"/>
<circle cx="801" cy="1059.6" r="3.2" stroke-width="1.6"/>
<path d="M769 997 C768 991 772 988 776 989 C779 990 780 996 777 999" stroke-width="2"/>
<circle cx="772.5" cy="995.2" r="1.6" fill="#111"/>
<circle cx="876" cy="1040" r="1.5" stroke-width="1"/>
<path d="M842 1055 L880 1042" stroke-width="1.3" stroke-dasharray="2 1"/>
<!-- small flange bolts -->
<g fill="#111" stroke="none">
<circle cx="715.8" cy="930.5" r="1.4"/><circle cx="728.5" cy="935" r="1.4"/><circle cx="748.8" cy="942.5" r="1.4"/>
<circle cx="765.8" cy="963.5" r="1.4"/><circle cx="784.5" cy="1002" r="1.4"/><circle cx="786" cy="1016" r="1.4"/>
<circle cx="786.5" cy="1058" r="1.4"/><circle cx="757.5" cy="1076" r="1.4"/><circle cx="740" cy="1070" r="1.4"/>
<circle cx="721" cy="1062" r="1.4"/><circle cx="704" cy="1045" r="1.4"/><circle cx="691.5" cy="1021" r="1.4"/>
<circle cx="691.5" cy="998" r="1.4"/><circle cx="692" cy="985" r="1.4"/><circle cx="693" cy="977" r="1.4"/>
<circle cx="698" cy="955" r="1.4"/><circle cx="780" cy="990" r="1.4"/>
</g>
<path d="M694 972 C698 970 701 972 699 976 C697 979 700 982 702 980" stroke-width="0.9"/>
<path d="M705 950 C709 946 714 947 712 951" stroke-width="0.9"/>
</g>

</svg>

<div class="t hb" style="left:130.2px;top:1107.14px">Key</div>
<div class="t hb" style="left:146.8px;top:1127.94px;letter-spacing:-0.7px">(20)</div><div class="t" style="left:180px;top:1127.94px;letter-spacing:-0.327px">Doubler fork</div>
<div class="t hb" style="left:146.8px;top:1148.60px;letter-spacing:-0.7px">(21)</div><div class="t" style="left:180px;top:1148.60px;letter-spacing:-0.075px">Doubler fork locking bolt</div>
<div class="t hb" style="left:146.8px;top:1169.26px;letter-spacing:-0.7px">(22)</div><div class="t" style="left:180px;top:1169.26px;letter-spacing:-0.045px">Doubler selecter rail</div>
<div class="t hb" style="left:146.8px;top:1189.92px;letter-spacing:-0.7px">(23)</div><div class="t" style="left:180px;top:1189.92px;letter-spacing:-0.033px">Lock</div>
<div class="t hb" style="left:146.8px;top:1210.58px;letter-spacing:-0.7px">(24)</div><div class="t" style="left:180px;top:1210.58px;letter-spacing:-0.650px">Rod</div>
<div class="t hb" style="left:146.8px;top:1231.24px;letter-spacing:-0.7px">(25)</div><div class="t" style="left:180px;top:1231.24px;letter-spacing:-0.040px">Spring</div>
<div class="t hb" style="left:146.8px;top:1251.90px;letter-spacing:-0.7px">(26)</div><div class="t" style="left:180px;top:1251.90px;letter-spacing:0.100px">Pin</div>
<div class="t hb" style="left:146.8px;top:1272.56px;letter-spacing:-0.7px">(27)</div><div class="t" style="left:180px;top:1272.56px;letter-spacing:-0.100px">Sealing bush</div>
<div class="t hb" style="left:146.8px;top:1293.22px;letter-spacing:-0.7px">(28)</div><div class="t" style="left:180px;top:1293.22px;letter-spacing:0.100px">Plug</div>
<div class="t hb" style="left:541.8px;top:1120.44px;letter-spacing:-0.7px">(29)</div><div class="t" style="left:575px;top:1120.44px;letter-spacing:-0.275px;word-spacing:0px">Doubler control lever</div>
<div class="t hb" style="left:541.8px;top:1141.10px;letter-spacing:-0.7px">(30)</div><div class="t" style="left:575px;top:1141.10px;letter-spacing:0.014px;word-spacing:0px">Outer stop ring</div>
<div class="t hb" style="left:541.8px;top:1161.76px;letter-spacing:-0.7px">(31)</div><div class="t" style="left:575px;top:1161.76px;letter-spacing:0.100px;word-spacing:0px">Washer</div>
<div class="t hb" style="left:541.8px;top:1182.42px;letter-spacing:-0.7px">(32)</div><div class="t" style="left:575px;top:1182.42px;letter-spacing:-0.195px;word-spacing:0px">Needle roller bearing</div>
<div class="t hb" style="left:541.8px;top:1203.08px;letter-spacing:-0.7px">(33)</div><div class="t" style="left:575px;top:1203.08px;letter-spacing:-0.014px;word-spacing:0px">Lip seal</div>
<div class="t hb" style="left:541.8px;top:1223.74px;letter-spacing:-0.7px">(34)</div><div class="t" style="left:575px;top:1223.74px;letter-spacing:0.100px;word-spacing:0px">Washer</div>
<div class="t hb" style="left:541.8px;top:1244.40px;letter-spacing:-0.7px">(35)</div><div class="t" style="left:575px;top:1244.40px;letter-spacing:-0.120px;word-spacing:-3.9px">Drive lever</div>
<div class="t hb" style="left:541.8px;top:1265.06px;letter-spacing:-0.7px">(36)</div><div class="t" style="left:575px;top:1265.06px;letter-spacing:-0.159px;word-spacing:0px">Lever locking bolt</div>
<div class="t hb" style="left:541.8px;top:1285.72px;letter-spacing:-0.7px">(47)</div><div class="t" style="left:575px;top:1285.72px;letter-spacing:-0.110px;word-spacing:0px">Doubler control cable</div>
<div class="t" style="left:851px;top:1309.74px">Fig. 19</div>
<div class="t" style="left:101.8px;top:1388.04px;font-size:16.9px">B2.56</div>
<div class="t" style="left:444.9px;top:1385.72px;font-size:13.7px">MR 328 - 04.2000 - EN</div>
</body></html>
